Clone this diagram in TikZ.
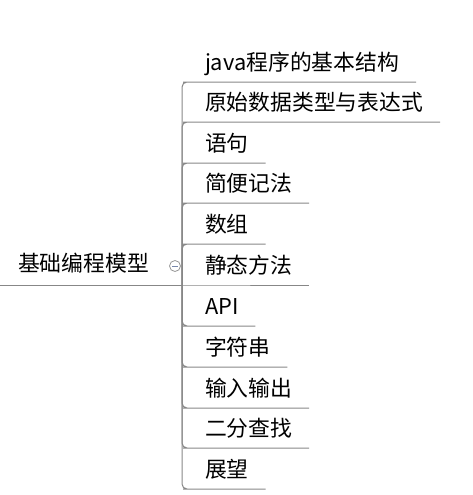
\documentclass[tikz,border=0pt]{standalone}
\usepackage{fontspec}
\newfontfamily\cjk{Noto Sans CJK SC}
\definecolor{linegray}{RGB}{135,135,135}
\definecolor{circgray}{RGB}{150,150,150}
\definecolor{minusblue}{RGB}{120,135,170}
\tikzset{
  leaf/.style={anchor=south west, inner xsep=17pt, inner ysep=11.5pt, outer sep=0pt,
    text depth=0pt, font=\cjk\fontsize{21.8}{25}\selectfont, text=black},
  rootnode/.style={anchor=south west, inner xsep=18pt, inner ysep=13.5pt, outer sep=0pt,
    text depth=0pt, font=\cjk\fontsize{21.8}{25}\selectfont, text=black},
  conn/.style={draw=linegray, line width=1pt, rounded corners=5pt},
}
\begin{document}
\begin{tikzpicture}[x=1pt,y=-1pt]
\useasboundingbox (0,0) rectangle (472,495);
\node[rootnode] (root) at (0,285) {基础编程模型};
\coordinate (jn) at (182,285);
\node[leaf] (c1) at (188,82) {java程序的基本结构};
\node[leaf] (c2) at (188,122) {原始数据类型与表达式};
\node[leaf] (c3) at (188,163) {语句};
\node[leaf] (c4) at (188,203) {简便记法};
\node[leaf] (c5) at (188,244) {数组};
\node[leaf] (c6) at (188,285) {静态方法};
\node[leaf] (c7) at (188,326) {API};
\node[leaf] (c8) at (188,367) {字符串};
\node[leaf] (c9) at (188,408) {输入输出};
\node[leaf] (c10) at (188,448) {二分查找};
\node[leaf] (c11) at (188,489) {展望};
\draw[conn] (root.south west) -- (jn);
\foreach \c in {c1,c2,c3,c4,c5,c7,c8,c9,c10,c11}{
  \draw[conn] (jn) |- (\c.south west) -- (\c.south east);
}
\draw[conn] (jn) -- (c6.south west) -- (c6.south east);
\node[draw=circgray, line width=0.8pt, circle, minimum size=11pt, inner sep=0pt] (tog) at (175,266) {};
\draw[minusblue, line width=0.9pt] ([xshift=-2.8pt]tog.center) -- ([xshift=2.8pt]tog.center);
\end{tikzpicture}
\end{document}
